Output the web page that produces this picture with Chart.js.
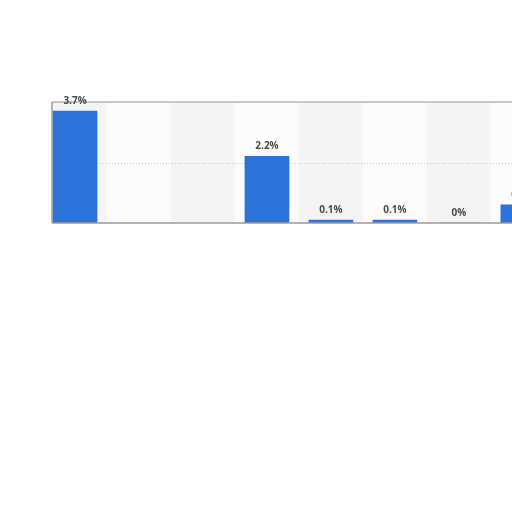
<!DOCTYPE html>
<html>
<head>
<meta charset="utf-8">
<script src="https://cdn.jsdelivr.net/npm/chart.js@4"></script>
<style>
  html, body { margin: 0; padding: 0; background: #fff; overflow: hidden; }
  #wrap { position: absolute; left: 0; top: 0; width: 512px; height: 512px; }
</style>
</head>
<body>
<div id="wrap"><canvas id="chart" width="512" height="512"></canvas></div>
<script>
// values (percent), empty slots have no bar
const positions = [0, 1, 2, 3, 4, 5, 6, 7];
const shares = [3.7, null, null, 2.2, 0.1, 0.1, 0, 0.6];
const yTicks = [0, 2, 4];

const barData = positions.map((p, i) => ({ x: p, y: shares[i] }));

// alternating column bands behind the bars
const bandPlugin = {
  id: "bands",
  beforeDatasetsDraw(chart) {
    const { ctx, chartArea, scales } = chart;
    ctx.save();
    ctx.beginPath();
    ctx.rect(chartArea.left, chartArea.top, chartArea.right - chartArea.left, chartArea.bottom - chartArea.top);
    ctx.clip();
    positions.forEach((p) => {
      const x1 = scales.x.getPixelForValue(p - 0.5);
      const x2 = scales.x.getPixelForValue(p + 0.5);
      ctx.fillStyle = p % 2 === 0 ? "#f4f4f4" : "#fcfcfc";
      ctx.fillRect(x1, chartArea.top, x2 - x1, chartArea.bottom - chartArea.top);
    });
    // dotted gridline in the middle
    ctx.strokeStyle = "#c8c8c8";
    ctx.setLineDash([1, 2]);
    ctx.lineWidth = 1;
    yTicks.slice(1, -1).forEach((t) => {
      const y = Math.round(scales.y.getPixelForValue(t)) + 0.5;
      ctx.beginPath();
      ctx.moveTo(chartArea.left, y);
      ctx.lineTo(chartArea.right, y);
      ctx.stroke();
    });
    ctx.restore();
  },
  afterDatasetsDraw(chart) {
    const { ctx, chartArea } = chart;
    ctx.save();
    ctx.strokeStyle = "#b4b4b4";
    ctx.lineWidth = 1.5;
    ctx.beginPath();
    ctx.moveTo(chartArea.left, chartArea.top);
    ctx.lineTo(chartArea.right, chartArea.top);
    ctx.stroke();
    ctx.strokeStyle = "#9a9a9a";
    ctx.beginPath();
    ctx.moveTo(chartArea.left, chartArea.bottom);
    ctx.lineTo(chartArea.right, chartArea.bottom);
    ctx.moveTo(chartArea.left, chartArea.top);
    ctx.lineTo(chartArea.left, chartArea.bottom);
    ctx.stroke();

    // value labels above the bars
    const meta = chart.getDatasetMeta(0);
    ctx.fillStyle = "#4a4a4a";
    ctx.font = "bold 10px 'Open Sans'";
    ctx.textAlign = "center";
    ctx.textBaseline = "bottom";
    meta.data.forEach((bar, i) => {
      if (shares[i] === null) return;
      ctx.fillText(shares[i] + "%", bar.x, bar.y - 5);
    });
    ctx.restore();
  }
};

new Chart(document.getElementById("chart"), {
  type: "bar",
  data: {
    datasets: [{
      data: barData,
      backgroundColor: "#2b73d9",
      borderWidth: 0,
      barThickness: 44
    }]
  },
  options: {
    responsive: false,
    animation: false,
    layout: { padding: { left: 52, right: 0, top: 102, bottom: 289 } },
    plugins: { legend: { display: false }, tooltip: { enabled: false } },
    scales: {
      x: {
        type: "linear",
        offset: false,
        min: -0.36,
        max: 6.83,
        display: false,
        grid: { display: false, offset: false }
      },
      y: {
        min: 0,
        max: 4,
        display: false,
        grid: { display: false }
      }
    }
  },
  plugins: [bandPlugin]
});
</script>
</body>
</html>
